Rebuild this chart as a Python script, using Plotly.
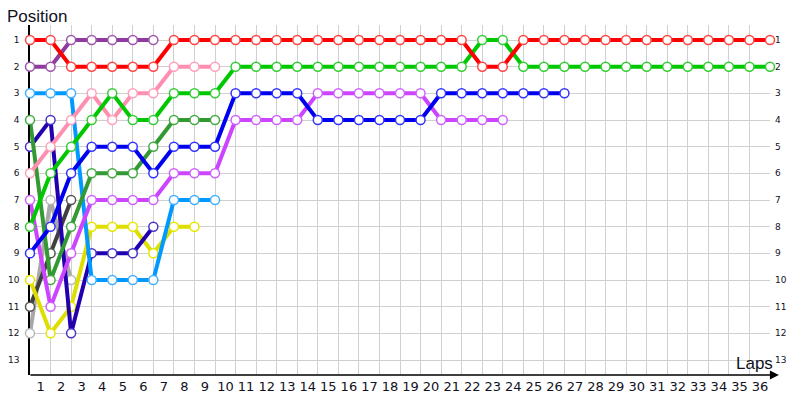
import plotly.graph_objects as go

# lap chart: position of each car after every lap (lap 0 = start grid)
laps = list(range(0, 37))
positions = list(range(1, 14))
lap_labels = [''] + [str(n) for n in range(1, 37)]

red = [1, 1, 2, 2, 2, 2, 2, 1, 1, 1, 1, 1, 1, 1, 1, 1, 1, 1, 1, 1, 1, 1,
       2, 2, 1, 1, 1, 1, 1, 1, 1, 1, 1, 1, 1, 1, 1]
green = [8, 6, 5, 4, 3, 4, 4, 3, 3, 3, 2, 2, 2, 2, 2, 2, 2, 2, 2, 2, 2, 2,
         1, 1, 2, 2, 2, 2, 2, 2, 2, 2, 2, 2, 2, 2, 2]
blue = [9, 8, 6, 5, 5, 5, 6, 5, 5, 5, 3, 3, 3, 3, 4, 4, 4, 4, 4, 4, 3, 3,
        3, 3, 3, 3, 3]
magenta = [7, 11, 9, 7, 7, 7, 7, 6, 6, 6, 4, 4, 4, 4, 3, 3, 3, 3, 3, 3, 4, 4,
           4, 4]
purple = [2, 2, 1, 1, 1, 1, 1]
light_blue = [3, 3, 3, 10, 10, 10, 10, 7, 7, 7]
dark_green = [4, 10, 8, 6, 6, 6, 5, 4, 4, 4]
pink = [6, 5, 4, 3, 4, 3, 3, 2, 2, 2]
navy = [5, 4, 12, 9, 9, 9, 8]
yellow = [10, 12, 11, 8, 8, 8, 9, 8, 8]
grey = [12, 7, 10]
dark_grey = [11, 9, 7]

# (positions, line colour, marker outline colour)
cars = [
    (grey, '#a8a8a8', '#b8b8b8'),
    (dark_grey, '#404040', '#555555'),
    (yellow, '#dede00', '#e6e600'),
    (navy, '#2200b0', '#4433cc'),
    (light_blue, '#0099ff', '#44b0ff'),
    (dark_green, '#339933', '#44aa44'),
    (pink, '#ff8fb0', '#ff9fbb'),
    (magenta, '#cc44ff', '#d060ff'),
    (blue, '#0000f0', '#3333ff'),
    (green, '#00c800', '#33cc33'),
    (purple, '#8e3a9e', '#9e55ae'),
    (red, '#ff0000', '#ff4444'),
]

fig = go.Figure()
for pos, line_col, edge_col in cars:
    fig.add_trace(go.Scatter(
        x=laps[:len(pos)],
        y=pos,
        mode='lines+markers',
        line=dict(color=line_col, width=4),
        marker=dict(size=9, color='white', line=dict(color=edge_col, width=1.5)),
        cliponaxis=False,
        hoverinfo='skip',
        showlegend=False,
    ))

tick_font = dict(family='DejaVu Sans', size=13, color='#111122')
small_font = dict(family='DejaVu Sans', size=9, color='#111122')

# the page body adds an 8px offset, so the figure is 8px smaller than the window
fig.update_layout(
    width=792,
    height=392,
    margin=dict(l=22, r=30, t=17, b=25, autoexpand=False),
    plot_bgcolor='white',
    paper_bgcolor='white',
    xaxis=dict(
        range=[0, 36],
        tickvals=laps,
        ticktext=lap_labels,
        ticklabelshift=-10,
        ticklabelstandoff=2,
        showgrid=True,
        gridcolor='#d0d0d0',
        gridwidth=1,
        zeroline=False,
        showline=False,
        ticks='',
        tickfont=tick_font,
        automargin=False,
    ),
    yaxis=dict(
        range=[13.5625, 0.4375],
        tickvals=positions,
        showgrid=True,
        gridcolor='#d0d0d0',
        gridwidth=1,
        zeroline=False,
        showline=True,
        linecolor='black',
        linewidth=1.5,
        layer='below traces',
        ticks='',
        ticklabelstandoff=7,
        tickfont=small_font,
        automargin=False,
    ),
    yaxis2=dict(
        range=[13.5625, 0.4375],
        tickvals=positions,
        overlaying='y',
        side='right',
        showgrid=False,
        zeroline=False,
        showline=False,
        ticks='',
        ticklabelstandoff=4,
        tickfont=small_font,
        automargin=False,
    ),
)

# invisible trace so the right-hand axis shows its labels
fig.add_trace(go.Scatter(x=[0], y=[1], yaxis='y2', mode='markers',
                         marker=dict(opacity=0), hoverinfo='skip', showlegend=False))

# x axis line with arrow
fig.add_annotation(
    xref='paper', yref='paper', x=1.012, y=0,
    axref='pixel', ayref='pixel', ax=-750, ay=0,
    showarrow=True, arrowhead=2, arrowsize=1.2, arrowwidth=1.5,
    arrowcolor='black', text='',
)

fig.add_annotation(
    xref='paper', yref='paper', x=-0.034, y=0.992,
    xanchor='left', yanchor='bottom', showarrow=False,
    text='Position', font=dict(family='Liberation Sans', size=17, color='#111122'),
)
fig.add_annotation(
    xref='paper', yref='paper', x=1.007, y=0.0,
    xanchor='right', yanchor='bottom', showarrow=False,
    text='Laps', font=dict(family='Liberation Sans', size=17, color='#111122'),
)

fig.write_html('out.html')
